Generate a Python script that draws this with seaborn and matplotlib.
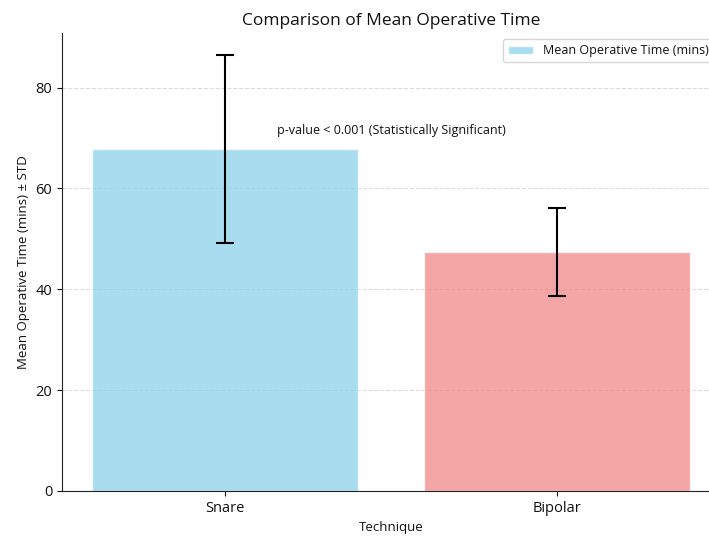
import matplotlib
matplotlib.use("Agg")
import matplotlib.pyplot as plt
import seaborn as sns
import pandas as pd

# Summary statistics per surgical technique
techniques = ["Snare", "Bipolar"]
mean_time = [67.8, 47.4]
std_time = [18.7, 8.8]
bar_colors = ["skyblue", "lightcoral"]

sns.set_style("ticks")
plt.rcParams["font.family"] = ["Open Sans", "DejaVu Sans"]
plt.rcParams.update({
    "text.color": "#111111",
    "axes.labelcolor": "#111111",
    "xtick.color": "#111111",
    "ytick.color": "#111111",
    "axes.edgecolor": "#222222",
})

df = pd.DataFrame({"Technique": techniques, "Mean": mean_time, "STD": std_time})

fig = plt.figure(figsize=(7.09, 5.36), dpi=100)
ax = fig.add_axes([0.0874, 0.084, 0.928, 0.8544])

sns.barplot(data=df, x="Technique", y="Mean", hue="Technique",
            palette=bar_colors, alpha=0.7, saturation=1, width=0.8,
            legend=False, ax=ax)

ax.errorbar(x=range(len(techniques)), y=df["Mean"], yerr=df["STD"],
            fmt="none", ecolor="black", elinewidth=1.5, capsize=6.5,
            capthick=1.5, zorder=5)

ax.text(0.5, 71.5, "p-value < 0.001 (Statistically Significant)",
        ha="center", va="center", fontsize=9)

ax.set_title("Comparison of Mean Operative Time", fontsize=12.5)
ax.set_xlabel("Technique", fontsize=9.5)
ax.set_ylabel("Mean Operative Time (mins) ± STD", fontsize=9.5)
ax.tick_params(axis="both", labelsize=10.5)

ax.yaxis.grid(True, linestyle="--", alpha=0.7)
ax.set_axisbelow(True)
sns.despine(ax=ax)

ax.legend([ax.patches[0]], ["Mean Operative Time (mins)"],
          loc="upper right", fontsize=9)

fig.savefig("out.png", dpi=100)
